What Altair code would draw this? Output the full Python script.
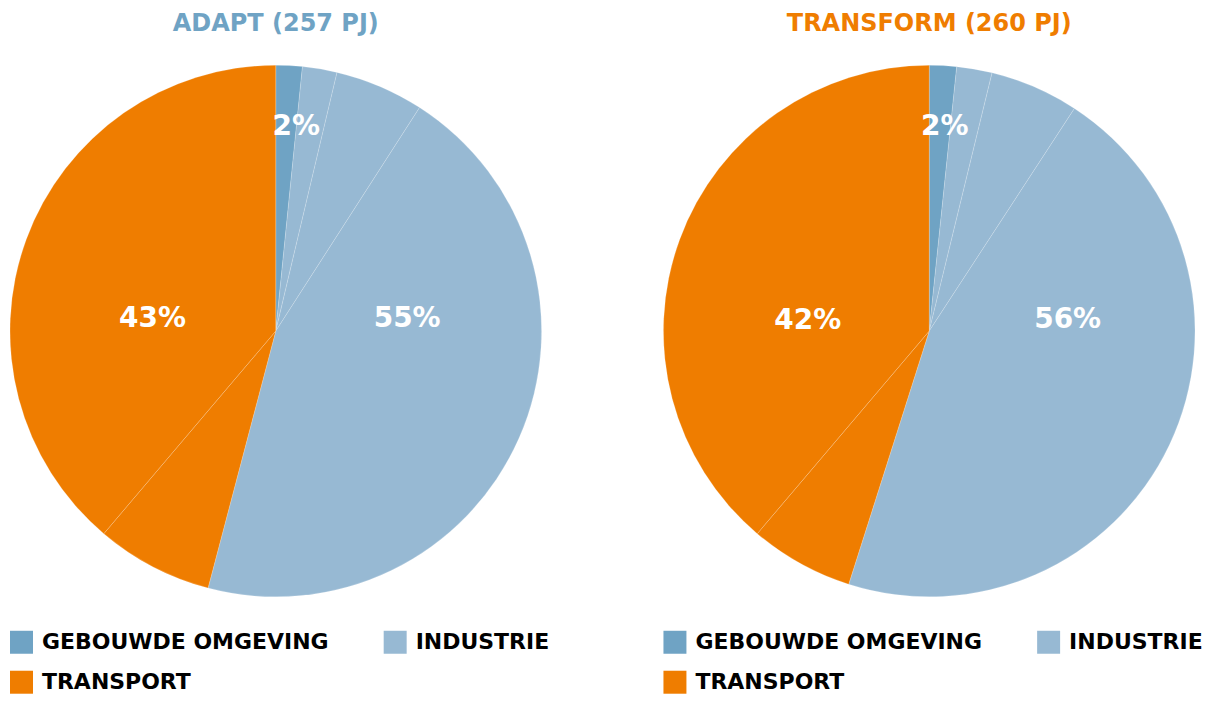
import altair as alt
import pandas as pd

# ---- data ----
SCENARIOS = ["ADAPT (257 PJ)", "TRANSFORM (260 PJ)"]
SLICE_SECTORS = ["GEBOUWDE OMGEVING", "INDUSTRIE", "INDUSTRIE", "INDUSTRIE", "TRANSPORT", "TRANSPORT"]
ADAPT_SHARES = [1.6, 2.1, 5.4, 45.0, 7.1, 38.8]
TRANSFORM_SHARES = [1.65, 2.15, 5.4, 45.7, 6.3, 38.8]
LABEL_SECTORS = ["GEBOUWDE OMGEVING", "INDUSTRIE", "TRANSPORT"]
ADAPT_LABELS = ["2%", "55%", "43%"]
TRANSFORM_LABELS = ["2%", "56%", "42%"]

# ---- style ----
SECTOR_DOMAIN = ["GEBOUWDE OMGEVING", "INDUSTRIE", "TRANSPORT"]
SECTOR_COLORS = ["#6fa3c4", "#97b9d3", "#ef7d00"]
TITLE_COLORS = ["#6fa3c4", "#ef7d00"]
FONT = "DejaVu Sans"
R = 266
# label placement (angle in % of the circle, radius in px) per scenario
LABEL_PLACEMENT = [
    {"theta": [1.6, 23.6, 76.5], "radius": [205, 132, 124]},
    {"theta": [1.2, 23.7, 76.3], "radius": [205, 139, 122]},
]


def panel(title, tcolor, shares, labels, place):
    df = pd.DataFrame({"sector": SLICE_SECTORS, "share": shares,
                       "order": list(range(len(shares)))})
    lab = pd.DataFrame({"sector": LABEL_SECTORS, "label": labels,
                        "lt": place["theta"], "lr": place["radius"]})
    arcs = alt.Chart(df).mark_arc(
        outerRadius=R, stroke="white", strokeWidth=0.6, strokeOpacity=0.3
    ).encode(
        theta=alt.Theta("share:Q", stack=True, scale=alt.Scale(domain=[0, 100])),
        color=alt.Color(
            "sector:N",
            scale=alt.Scale(domain=SECTOR_DOMAIN, range=SECTOR_COLORS),
            legend=alt.Legend(
                title=None, orient="bottom", direction="horizontal", columns=2,
                symbolType="square", symbolSize=529, symbolStrokeWidth=0,
                symbolOpacity=1, labelFont=FONT, labelFontSize=22,
                labelFontWeight="bold", labelColor="black", labelOffset=9,
                rowPadding=17, columnPadding=55, offset=34, labelLimit=0,
                padding=0,
            ),
        ),
        order=alt.Order("order:Q"),
    )
    text = alt.Chart(lab).mark_text(
        font=FONT, fontSize=28, fontWeight="bold", color="white",
        align="center", baseline="middle",
    ).encode(
        theta=alt.Theta("lt:Q", stack=None, scale=alt.Scale(domain=[0, 100])),
        radius=alt.Radius("lr:Q", scale=None),
        text="label:N",
    )
    return alt.layer(arcs, text).properties(
        width=2 * R, height=2 * R,
        title=alt.TitleParams(title, color=tcolor, font=FONT, fontSize=24,
                              fontWeight="bold", anchor="middle", offset=28),
    )


left = panel(SCENARIOS[0], TITLE_COLORS[0], ADAPT_SHARES, ADAPT_LABELS, LABEL_PLACEMENT[0])
right = panel(SCENARIOS[1], TITLE_COLORS[1], TRANSFORM_SHARES, TRANSFORM_LABELS, LABEL_PLACEMENT[1])

chart = alt.hconcat(left, right, spacing=122, bounds="flush").resolve_scale(
    color="independent", theta="independent"
).resolve_legend(color="independent").configure_view(stroke=None).properties(
    padding={"left": 0, "top": 3, "right": 0, "bottom": 0}
)

chart.save("out.html", embed_options={"renderer": "svg", "actions": False})
